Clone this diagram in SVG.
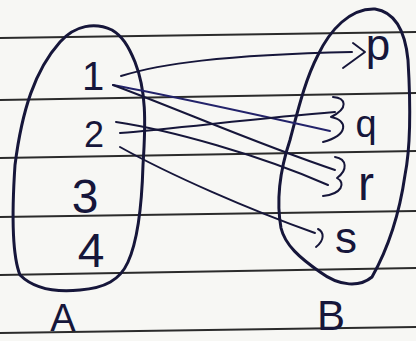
<svg xmlns="http://www.w3.org/2000/svg" width="416" height="341" viewBox="0 0 416 341">
<style>
.ink{fill:none;stroke:#16163a;stroke-linecap:round;stroke-linejoin:round}
.set{stroke-width:3}
.con{stroke-width:2}
.rule{stroke:#2b2b2b;stroke-width:2}
text{font-family:"Liberation Sans",Arial,sans-serif;fill:#16163a;text-anchor:middle}
</style>
<rect width="416" height="341" fill="#f7f7f4"/>
<g id="paper-lines">
<line class="rule" x1="0" y1="38" x2="416" y2="32"/>
<line class="rule" x1="0" y1="100" x2="416" y2="93"/>
<line class="rule" x1="0" y1="158" x2="416" y2="151"/>
<line class="rule" x1="0" y1="217" x2="416" y2="211"/>
<line class="rule" x1="0" y1="275" x2="416" y2="268"/>
<line class="rule" x1="0" y1="333" x2="416" y2="327"/>
</g>
<g id="set-A">
<path class="ink set" d="M112,30 C95,22 75,25 60,42 C35,70 22,110 15,165 C12,210 12,255 20,275 C35,290 60,292 80,290 C105,288 120,280 128,262 C138,240 142,200 143,165 C146,120 146,90 135,62 C128,45 122,36 112,30 Z"/>
<text x="63" y="331" font-size="38">A</text>
</g>
<g id="set-B">
<path class="ink set" d="M375,9 C395,12 405,30 408,60 C411,110 410,150 405,175 C400,210 390,245 372,277 C360,287 340,287 320,272 C300,258 285,245 281,228 C276,200 280,170 290,140 C298,110 305,80 318,55 C330,30 350,8 375,9 Z"/>
<text x="331" y="330" font-size="42">B</text>
</g>
<g id="a1"><text x="93" y="90" font-size="40">1</text></g>
<g id="a2"><text x="94" y="147" font-size="36">2</text></g>
<g id="a3"><text x="85" y="213" font-size="48">3</text></g>
<g id="a4"><text x="91" y="267" font-size="48">4</text></g>
<g id="bp"><text x="378" y="60" font-size="44">p</text></g>
<g id="bq"><text x="366" y="137" font-size="38">q</text></g>
<g id="br"><text x="366" y="200" font-size="48">r</text></g>
<g id="bs"><text x="346" y="253" font-size="44">s</text></g>
<g id="connectors" class="ink con">
<path d="M121,76 C160,64 220,55 352,52"/>
<path d="M353,43 L365,52 L343,68"/>
<path d="M113,85 C150,92 200,102 330,131" stroke="#23236a"/>
<path d="M113,85 C180,110 260,145 335,170"/>
<path d="M116,122 C170,130 260,155 328,185"/>
<path d="M120,133 C180,128 260,118 335,112"/>
<path d="M333,97 C346,98 349,108 331,117 C348,120 349,135 323,142"/>
<path d="M335,157 C347,159 348,170 337,178 C346,183 342,194 323,196"/>
<path d="M120,147 C170,175 250,210 315,233"/>
<path d="M318,229 C324,232 325,240 316,247"/>
</g>
</svg>
